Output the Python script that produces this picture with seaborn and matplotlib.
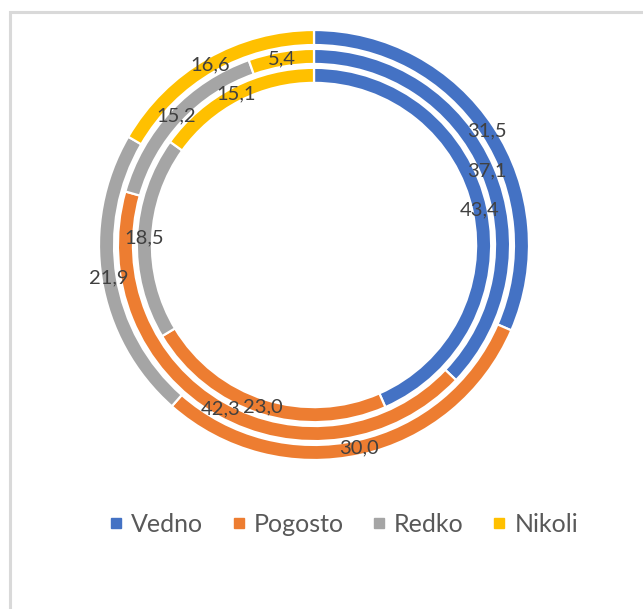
import matplotlib
matplotlib.use("Agg")
import matplotlib.pyplot as plt
import numpy as np
import seaborn as sns
from matplotlib.patches import Rectangle
from matplotlib.lines import Line2D

categories = ["Vedno", "Pogosto", "Redko", "Nikoli"]
outer_ring = [31.5, 30.0, 21.9, 16.6]
middle_ring = [37.1, 42.3, 15.2, 5.4]
inner_ring = [43.4, 23.0, 18.5, 15.1]

sns.set_theme(style="white")
plt.rcParams["font.family"] = ["Lato", "DejaVu Sans"]
palette = sns.color_palette(["#4472C4", "#ED7D31", "#A5A5A5", "#FFC000"])

W, H = 643, 609
fig = plt.figure(figsize=(W / 100, H / 100), dpi=100)
fig.patch.set_facecolor("white")

# doughnut area: centre and outer radius in pixels
cx, cy, R = 314, 245, 215
ax = fig.add_axes([(cx - R) / W, (H - cy - R) / H, 2 * R / W, 2 * R / H])

ring_width = 0.07
rings = [(outer_ring, 1.0), (middle_ring, 0.912), (inner_ring, 0.824)]
for values, radius in rings:
    wedges, _ = ax.pie(values, radius=radius, startangle=90, counterclock=False,
                       colors=palette,
                       wedgeprops=dict(width=ring_width, edgecolor="white", linewidth=1.6))
    for w, v in zip(wedges, values):
        theta = np.deg2rad((w.theta1 + w.theta2) / 2)
        r = radius - ring_width / 2
        ax.text(r * np.cos(theta), r * np.sin(theta), f"{v:.1f}".replace(".", ","),
                ha="center", va="center", fontsize=14.5, color="#404040")
ax.set_xlim(-1, 1)
ax.set_ylim(-1, 1)
ax.axis("off")

# chart frame
fig.patches.append(Rectangle((9.5 / W, -0.1), 1.0, (H - 12) / H + 0.1,
                             transform=fig.transFigure, fill=False,
                             edgecolor="#D9D9D9", linewidth=2.2))

handles = [Line2D([], [], marker="s", linestyle="none", markersize=7.5,
                  markerfacecolor=c, markeredgecolor=c) for c in palette]
fig.legend(handles, categories, loc="center", bbox_to_anchor=(342 / W, 1 - 524 / H),
           ncol=4, frameon=False, fontsize=18, labelcolor="#595959",
           handletextpad=0.2, columnspacing=1.02, handlelength=0.8)

fig.savefig("out.png", dpi=100, facecolor="white")
